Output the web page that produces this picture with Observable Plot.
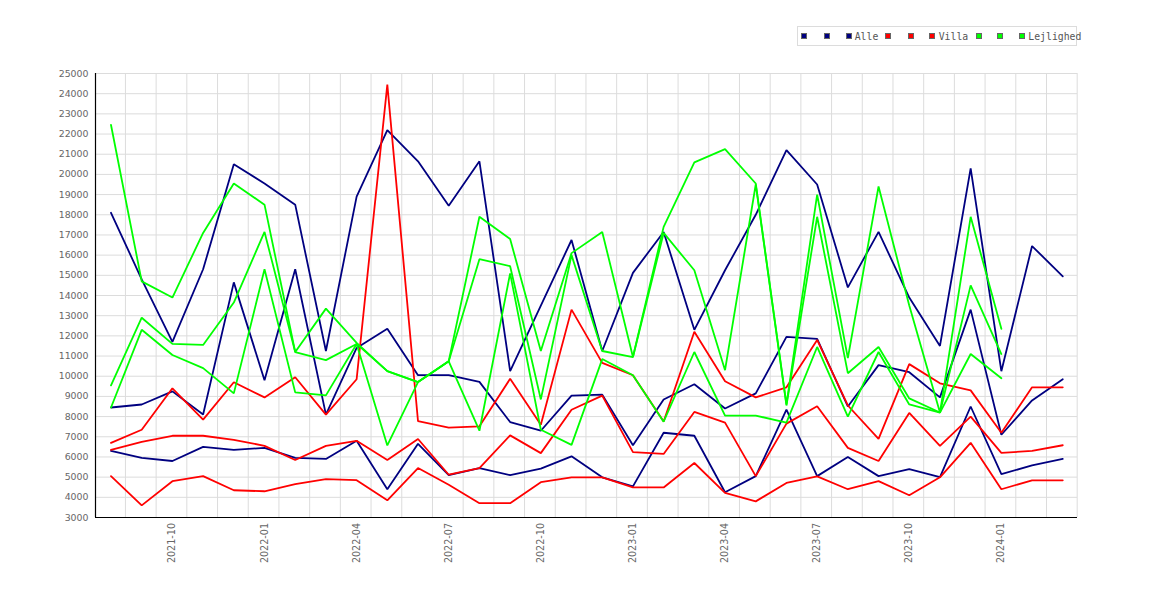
<!DOCTYPE html>
<html><head><meta charset="utf-8">
<script src="https://cdn.jsdelivr.net/npm/d3@7"></script>
<script src="https://cdn.jsdelivr.net/npm/@observablehq/plot@0.6"></script>
<style>
body{margin:0;background:#fff;}
#wrap{position:relative;width:1170px;height:600px;}
#legend{position:absolute;left:797px;top:26px;width:280px;height:20px;border:1px solid #dcdcdc;box-sizing:border-box;background:#fff;font-family:"DejaVu Sans Mono",monospace;font-size:9.8px;color:#555;}
.sw{position:absolute;top:6.3px;width:6px;height:6px;border:1px solid #666;box-sizing:border-box;}
.lb{position:absolute;top:5.3px;line-height:10px;white-space:nowrap;}
</style></head><body><div id="wrap"><div id="chart"></div><div id="legend"></div></div>
<script>
const months = ["2021-08","2021-09","2021-10","2021-11","2021-12","2022-01","2022-02","2022-03","2022-04","2022-05","2022-06","2022-07","2022-08","2022-09","2022-10","2022-11","2022-12","2023-01","2023-02","2023-03","2023-04","2023-05","2023-06","2023-07","2023-08","2023-09","2023-10","2023-11","2023-12","2024-01","2024-02","2024-03"];
const tickMonths = ["2021-10","2022-01","2022-04","2022-07","2022-10","2023-01","2023-04","2023-07","2023-10","2024-01"];
const yTicks = d3.range(3000, 25001, 1000);

const alleHi  = [18100,14800,11700,15300,20500,19550,18500,11250,18900,22200,20650,18450,20650,10250,13500,16750,11250,15120,17150,12300,15250,18000,21200,19500,14400,17150,13900,11500,20300,10250,16450,14950];
const alleMid = [8450,8600,9250,8100,14650,9800,15300,8100,11400,12350,10050,10050,9720,7730,7300,9040,9090,6580,8850,9600,8400,9150,11950,11850,8500,10550,10200,8950,13300,7100,8800,9850];
const alleLo  = [6300,5950,5800,6500,6350,6450,5950,5900,6800,4400,6650,5100,5450,5100,5420,6030,4990,4540,7200,7050,4250,5050,8350,5050,6000,5050,5400,5000,8500,5150,5580,5900];

const villaHi  = [6700,7350,9400,7850,9700,8950,9950,8100,9850,24450,7770,7450,7520,9870,7600,13300,10660,10050,7760,12200,9750,8950,9450,11800,8550,6900,10600,9650,9300,7200,9450,9450];
const villaMid = [6350,6750,7050,7050,6850,6550,5850,6550,6800,5850,6890,5120,5450,7070,6190,8340,9040,6240,6150,8230,7700,5050,7650,8510,6450,5800,8180,6550,8000,6200,6300,6580];
const villaLo  = [5050,3600,4800,5050,4350,4300,4650,4900,4850,3850,5450,4620,3710,3710,4750,4985,4985,4490,4490,5700,4220,3800,4710,5040,4400,4800,4100,4990,6700,4400,4840,4840];

const lejHi  = [22450,14700,13900,17100,19550,18500,11200,13350,11650,10250,9710,10740,17900,16800,11250,16100,17150,10950,17400,20600,21250,19550,8600,19000,10900,19400,13500,8200,17900,12350];
const lejMid = [9550,12900,11600,11550,13650,17150,11200,10800,11600,10250,9710,10740,15800,15450,8850,16000,11250,10950,17100,15250,10300,19500,8550,17900,10150,11450,8900,8200,14500,11100];
const lejLo  = [8450,12300,11050,10400,9150,15300,9200,9050,11600,6570,9710,10740,7300,15100,7350,6600,10850,10050,7750,11200,8050,8050,7700,11450,8000,11200,8600,8200,11100,9900];

const groups = [
  {name:"Alle", color:"#000080", series:[alleHi, alleMid, alleLo]},
  {name:"Villa", color:"#ff0000", series:[villaHi, villaMid, villaLo]},
  {name:"Lejlighed", color:"#00ff00", series:[lejHi, lejMid, lejLo]}
];

const toRows = (vals, key) => vals.map((v, i) => ({i, v, key})).filter(d => d.v != null);

const lineMarks = [];
groups.forEach(g => {
  g.series.forEach((s, k) => {
    lineMarks.push(Plot.line(toRows(s, g.name + k), {x: "i", y: "v", stroke: g.color, strokeWidth: 1.8, strokeLinejoin: "miter"}));
  });
});

const xLeft = -0.505, xRight = 31.48;
const xGrid = d3.range(0, 32).map(i => i + 0.47);
const tickIdx = tickMonths.map(m => months.indexOf(m));

const chart = Plot.plot({
  width: 1170, height: 600,
  marginLeft: 95, marginRight: 93, marginTop: 73, marginBottom: 83,
  x: {type: "linear", domain: [xLeft, xRight], axis: null},
  y: {domain: [3000, 25000], axis: null},
  style: {background: "#fff", fontFamily: "DejaVu Sans"},
  marks: [
    Plot.ruleY(yTicks.slice(1), {stroke: "#dcdcdc", strokeWidth: 1}),
    Plot.ruleX(xGrid, {stroke: "#dcdcdc", strokeWidth: 1}),
    ...lineMarks,
    Plot.ruleX([xLeft], {stroke: "#000", strokeWidth: 1.2}),
    Plot.ruleY([3000], {stroke: "#000", strokeWidth: 1.2}),
    Plot.axisY({ticks: yTicks, tickSize: 0, tickPadding: 7, tickFormat: "d", fill: "#666", fontSize: 9.4, fontFamily: "DejaVu Sans", label: null}),
    Plot.text(tickIdx, {x: d => d, frameAnchor: "bottom", dy: 5.5, rotate: -90, textAnchor: "end", lineAnchor: "middle", text: d => months[d], fill: "#666", fontSize: 9.6, fontFamily: "DejaVu Sans"})
  ]
});
document.getElementById("chart").appendChild(chart);

// legend (HTML overlay)
const legend = document.getElementById("legend");
const swX = [[3.3, 25.7, 47.7], [87.3, 109.7, 131.3], [177.7, 199.3, 221.3]];
const lbX = [56.7, 140.7, 230.3];
groups.forEach((g, gi) => {
  swX[gi].forEach(x => {
    const s = document.createElement("div");
    s.className = "sw"; s.style.left = x + "px"; s.style.background = g.color;
    legend.appendChild(s);
  });
  const t = document.createElement("div");
  t.className = "lb"; t.style.left = lbX[gi] + "px"; t.textContent = g.name;
  legend.appendChild(t);
});
</script></body></html>
